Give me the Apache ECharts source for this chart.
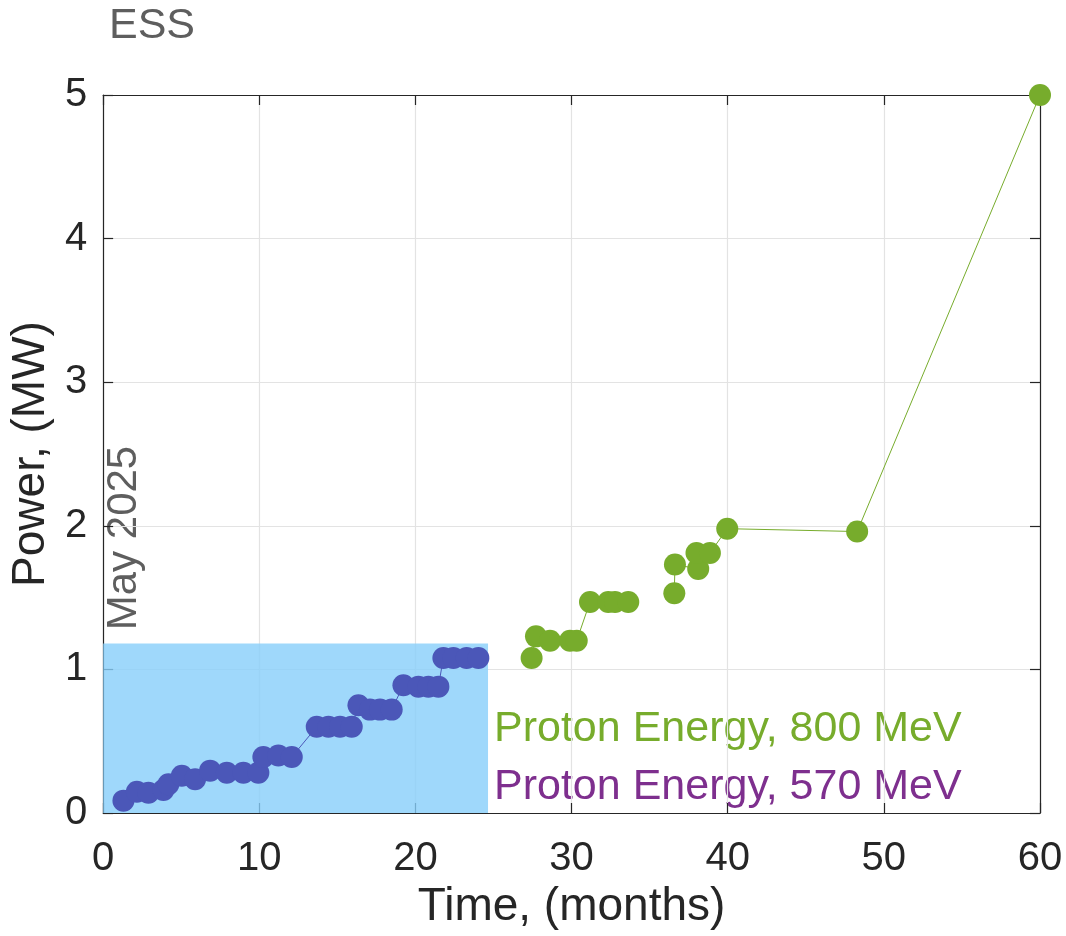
<!DOCTYPE html>
<html>
<head>
<meta charset="utf-8">
<script src="https://cdn.jsdelivr.net/npm/echarts@6/dist/echarts.min.js"></script>
<style>html,body{margin:0;padding:0;background:#fff}#c{width:1066px;height:936px}</style>
</head>
<body>
<div id="c"></div>
<script>
// ---- data ----
const xTicks = [0, 10, 20, 30, 40, 50, 60];
const yTicks = [0, 1, 2, 3, 4, 5];
const blueX = [1.30, 2.16, 2.90, 3.86, 4.18, 5.04, 5.89, 6.85, 7.92, 8.98, 9.94, 10.26, 11.22, 12.08,
  13.68, 14.43, 15.17, 15.92, 16.35, 17.09, 17.73, 18.48, 19.23, 20.19, 20.83, 21.47, 21.79, 22.43, 23.28, 24.03];
const blueY = [0.086, 0.148, 0.141, 0.16, 0.20, 0.26, 0.235, 0.295, 0.28, 0.28, 0.28, 0.39, 0.40, 0.39,
  0.60, 0.60, 0.60, 0.60, 0.75, 0.72, 0.72, 0.72, 0.89, 0.88, 0.88, 0.88, 1.08, 1.08, 1.08, 1.08];
const greenAX = [27.44, 27.72, 28.62, 29.90, 30.33, 31.18, 32.35, 32.78, 33.63];
const greenAY = [1.08, 1.23, 1.20, 1.20, 1.20, 1.47, 1.47, 1.47, 1.47];
const greenBX = [36.58, 36.62, 38.11, 38.00, 38.86, 39.97, 48.29, 60.0];
const greenBY = [1.53, 1.73, 1.70, 1.81, 1.81, 1.98, 1.96, 5.0];
const shadeX = [-0.1, 24.65];
const shadeY = [-0.01, 1.18];
const labels = { title: 'ESS', date: 'May 2025', e800: 'Proton Energy, 800 MeV', e570: 'Proton Energy, 570 MeV',
  xName: 'Time, (months)', yName: 'Power, (MW)' };

const zip = (xs, ys) => xs.map((x, i) => [x, ys[i]]);
const FONT = '"Liberation Sans", Arial, Helvetica, sans-serif';
const BLUE = '#4B57B8', GREEN = '#77AC2C';

const chart = echarts.init(document.getElementById('c'));
const mkX = (pos, show) => ({
  type: 'value', position: pos, min: xTicks[0], max: xTicks[xTicks.length - 1], interval: 10,
  axisLine: { show: true, onZero: false, lineStyle: { color: '#262626', width: 1.2 } },
  axisTick: { show: true, inside: true, length: 10, lineStyle: { color: '#262626', width: 1.2 } },
  axisLabel: { show: show, fontSize: 40, color: '#262626', fontFamily: FONT, margin: 26 },
  splitLine: { show: show, lineStyle: { color: '#e3e3e3', width: 1.2 } },
  name: show ? labels.xName : '', nameLocation: 'middle', nameGap: 70,
  nameTextStyle: { fontSize: 46, color: '#262626', fontFamily: FONT }
});
const mkY = (pos, show) => ({
  type: 'value', position: pos, min: yTicks[0], max: yTicks[yTicks.length - 1], interval: 1,
  axisLine: { show: true, onZero: false, lineStyle: { color: '#262626', width: 1.2 } },
  axisTick: { show: true, inside: true, length: 10, lineStyle: { color: '#262626', width: 1.2 } },
  axisLabel: { show: show, fontSize: 40, color: '#262626', fontFamily: FONT, margin: 16 },
  splitLine: { show: show, lineStyle: { color: '#e3e3e3', width: 1.2 } },
  name: show ? labels.yName : '', nameLocation: 'middle', nameGap: 48, nameRotate: 90,
  nameTextStyle: { fontSize: 46, color: '#262626', fontFamily: FONT }
});

const sym = (color) => ({
  type: 'line', symbol: 'circle', symbolSize: 22, showSymbol: true,
  lineStyle: { color: color, width: 1 }, itemStyle: { color: color }, animation: false, z: 3
});

chart.setOption({
  animation: false,
  grid: { left: 103, right: 26, top: 95, bottom: 123 },
  xAxis: [mkX('bottom', true), mkX('top', false)],
  yAxis: [mkY('left', true), mkY('right', false)],
  series: [
    Object.assign(sym(BLUE), {
      data: zip(blueX, blueY),
      markArea: {
        silent: true,
        itemStyle: { color: 'rgba(135,206,250,0.8)' },
        data: [[{ coord: [shadeX[0], shadeY[0]] }, { coord: [shadeX[1], shadeY[1]] }]]
      }
    }),
    Object.assign(sym(GREEN), { data: zip(greenAX, greenAY) }),
    Object.assign(sym(GREEN), { data: zip(greenBX, greenBY) })
  ],
  graphic: [
    { type: 'text', left: 109, top: 5, style: { text: labels.title, fontSize: 43, fill: '#5e5e5e', fontFamily: FONT } },
    { type: 'text', x: 124, y: 538, rotation: Math.PI / 2,
      style: { text: labels.date, fontSize: 42, fill: '#5e5e5e', fontFamily: FONT, align: 'center', verticalAlign: 'middle' } },
    { type: 'text', x: 494, y: 729,
      style: { text: labels.e800, fontSize: 43, fill: '#77AC2C', fontFamily: FONT, verticalAlign: 'middle' } },
    { type: 'text', x: 494, y: 787,
      style: { text: labels.e570, fontSize: 43, fill: '#7E2F8E', fontFamily: FONT, verticalAlign: 'middle' } }
  ]
});
</script>
</body>
</html>
